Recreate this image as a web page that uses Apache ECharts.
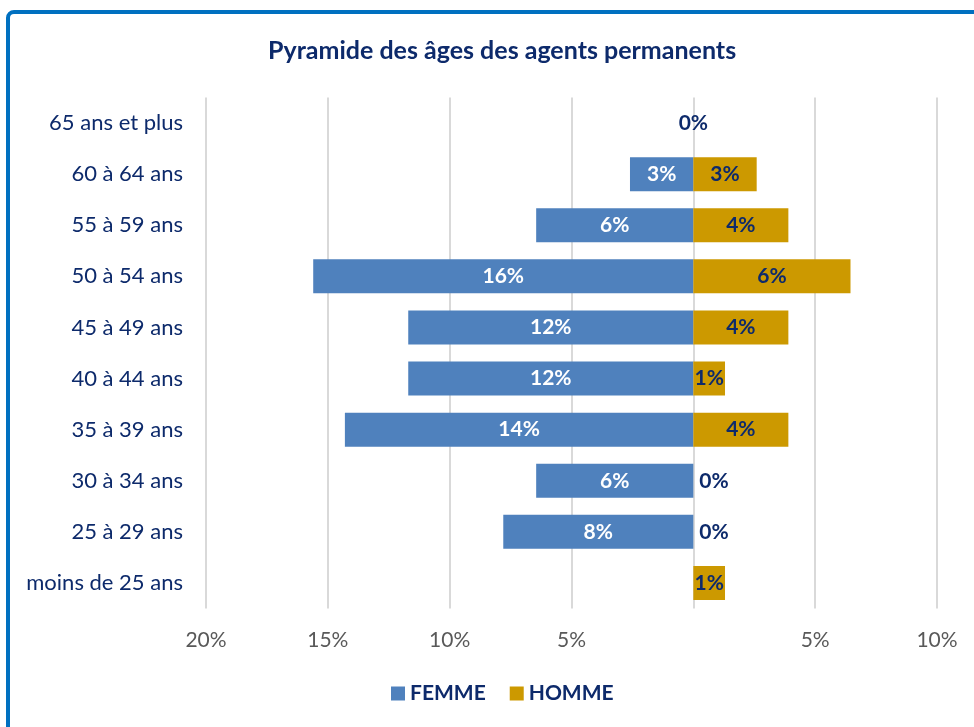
<!DOCTYPE html>
<html><head><meta charset="utf-8">
<script src="https://cdn.jsdelivr.net/npm/echarts@6/dist/echarts.min.js"></script>
<style>html,body{margin:0;padding:0;background:#fff}#c{width:974px;height:727px}</style>
</head><body><div id="c"></div>
<script>
const categories = ['65 ans et plus','60 à 64 ans','55 à 59 ans','50 à 54 ans','45 à 49 ans','40 à 44 ans','35 à 39 ans','30 à 34 ans','25 à 29 ans','moins de 25 ans'];
const femme = [0, 2.6, 6.45, 15.6, 11.7, 11.7, 14.3, 6.45, 7.8, 0];
const homme = [0, 2.6, 3.9, 6.45, 3.9, 1.3, 3.9, 0, 0, 1.3];
const xTicks = {min: -20, max: 10, interval: 5};

const NAVY = '#0D2A6B';
const FONT = 'Lato';
const chart = echarts.init(document.getElementById('c'));
const fmt = p => Math.round(Math.abs(p.value)) + '%';
const hommeData = homme.map((v, i) => (v === 0 && femme[i] !== 0) ? {value: v, label: {position: 'right', distance: 6}} : v);
const femmeData = femme.map(v => -v);

chart.setOption({
  animation: false,
  textStyle: {fontFamily: FONT},
  graphic: [{
    type: 'rect', shape: {x: 8, y: 12, width: 1000, height: 800, r: 6},
    style: {fill: 'none', stroke: '#0070C0', lineWidth: 4}
  }],
  title: {
    text: 'Pyramide des âges des agents permanents', left: 263, top: 33,
    textStyle: {color: NAVY, fontSize: 25, fontWeight: 'bold', fontFamily: FONT}
  },
  legend: {
    bottom: 18, left: 386, itemWidth: 14, itemHeight: 14, itemGap: 24,
    icon: 'rect',
    textStyle: {color: NAVY, fontSize: 21, fontWeight: 'bold', fontFamily: FONT},
    data: ['FEMME', 'HOMME']
  },
  grid: {left: 206, right: 37, top: 97.5, bottom: 118.5, containLabel: false},
  xAxis: {
    type: 'value', min: xTicks.min, max: xTicks.max, interval: xTicks.interval,
    axisLine: {show: false}, axisTick: {show: false},
    splitLine: {lineStyle: {color: '#D9D9D9', width: 2}},
    axisLabel: {color: '#595959', fontSize: 21, margin: 21, fontFamily: FONT,
      formatter: v => v === 0 ? '' : Math.abs(v) + '%'}
  },
  yAxis: {
    type: 'category', data: categories, inverse: true,
    axisLine: {show: false}, axisTick: {show: false},
    axisLabel: {color: NAVY, fontSize: 22, margin: 23, fontFamily: FONT}
  },
  series: [
    {
      name: 'FEMME', type: 'bar', data: femmeData, barWidth: 34, barGap: '-100%',
      itemStyle: {color: '#4F81BD'},
      label: {show: true, position: 'inside', color: '#fff', fontWeight: 'bold', fontSize: 21, fontFamily: FONT,
        formatter: p => p.value === 0 ? '' : fmt(p)}
    },
    {
      name: 'HOMME', type: 'bar', data: hommeData, barWidth: 34,
      itemStyle: {color: '#CC9900'},
      label: {show: true, position: 'inside', color: NAVY, fontWeight: 'bold', fontSize: 21, fontFamily: FONT,
        formatter: fmt}
    }
  ]
});
</script></body></html>
